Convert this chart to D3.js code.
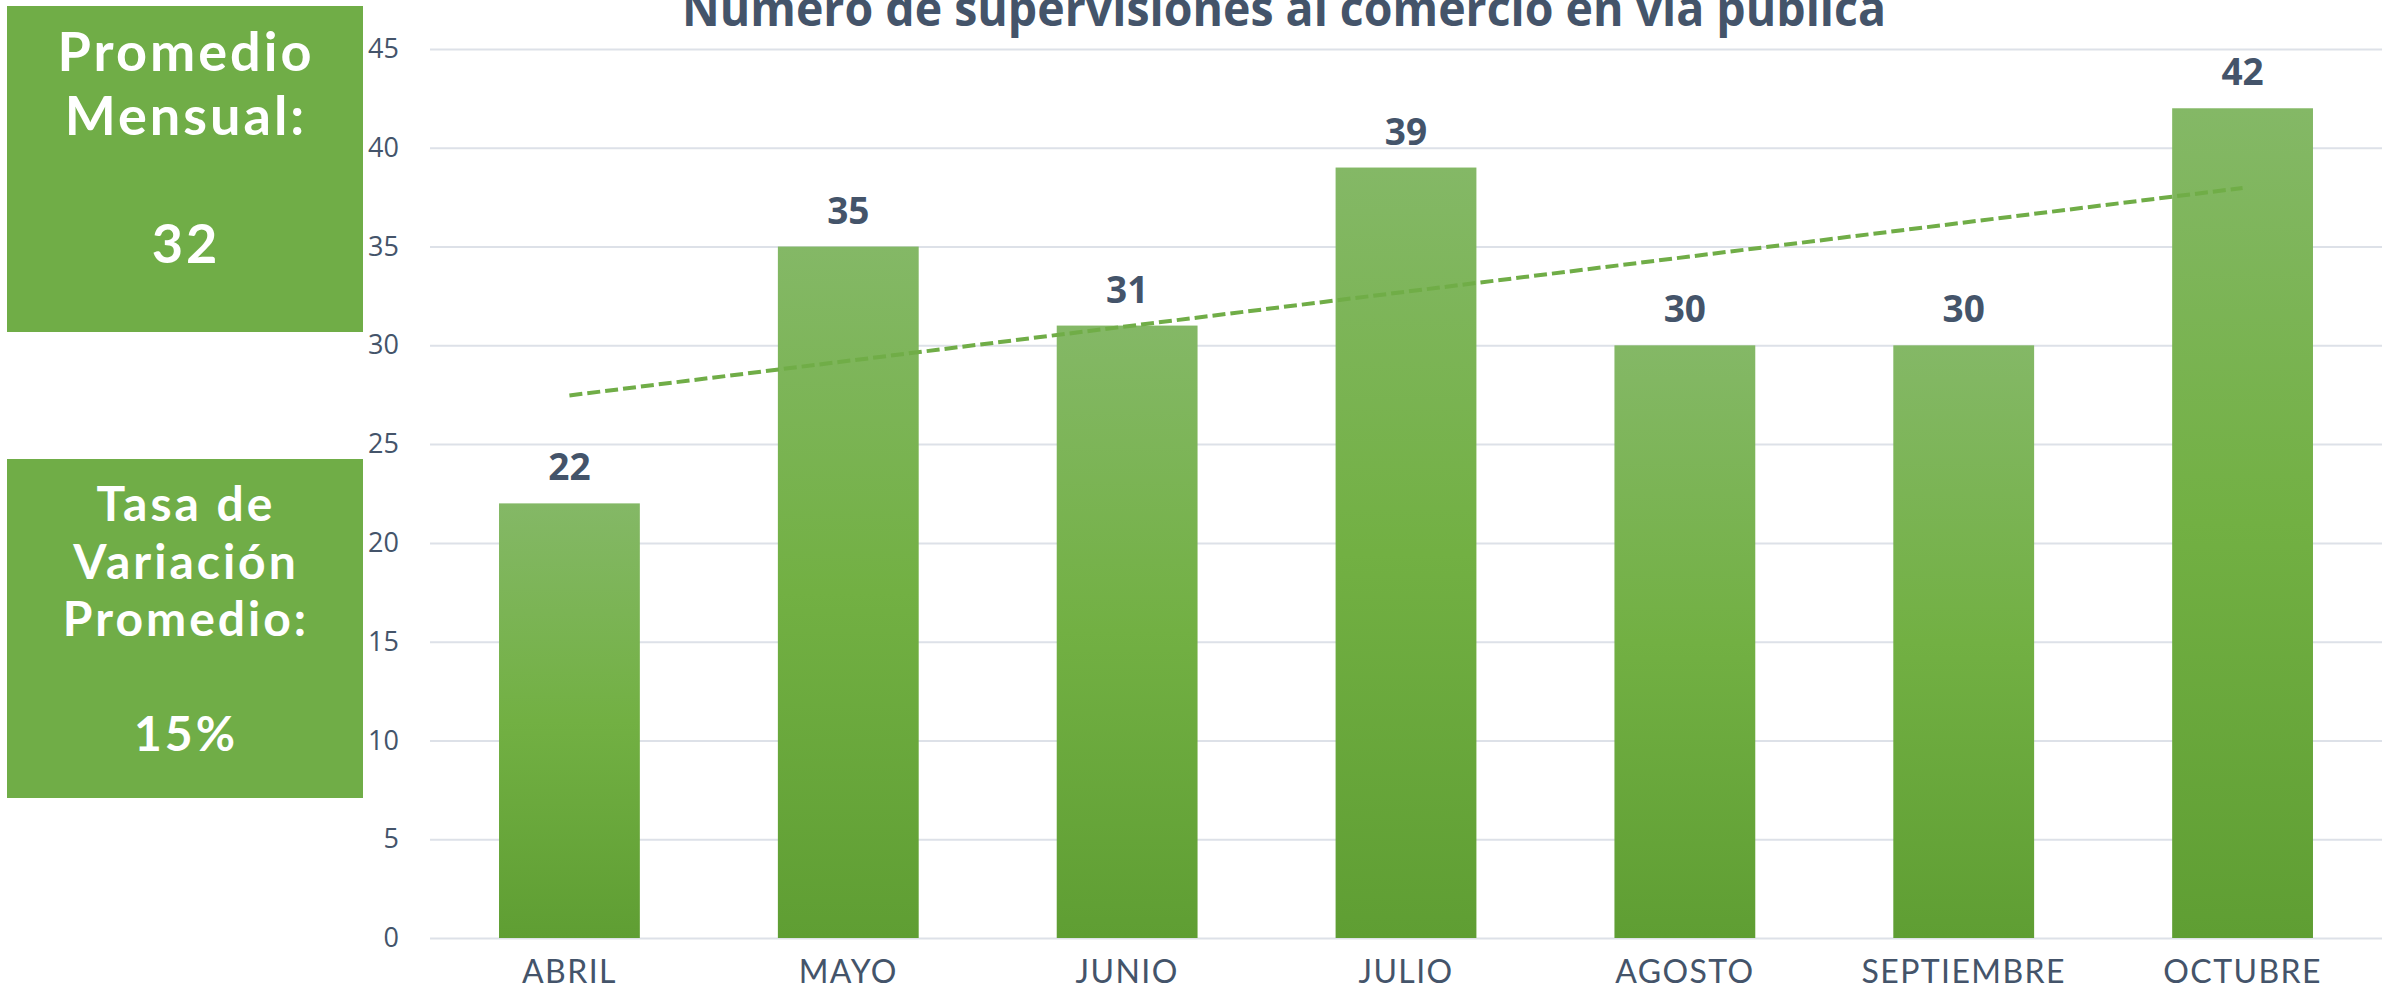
<!DOCTYPE html>
<html>
<head>
<meta charset="utf-8">
<script src="https://cdn.jsdelivr.net/npm/d3@7"></script>
<style>
  body { margin: 0; background: #fff; }
  .tickY text { font-family: "Open Sans", sans-serif; font-size: 27px; fill: #44546a; }
  .tickX text { font-family: Lato, sans-serif; font-weight: 400; font-size: 32px; letter-spacing: 1.4px; fill: #44546a; }
</style>
</head>
<body>
<div id="chart"></div>
<script>
// chart values
let months = ["ABRIL", "MAYO", "JUNIO", "JULIO", "AGOSTO", "SEPTIEMBRE", "OCTUBRE"];
let supervisiones = [22, 35, 31, 39, 30, 30, 42];
let yTicks = [0, 5, 10, 15, 20, 25, 30, 35, 40, 45];
let promedioLines = ["Promedio", "Mensual:", "", "32"];
let tasaLines = ["Tasa de", "Variación", "Promedio:", "", "15%"];
let titulo = "Número de supervisiones al comercio en vía pública";

let svgWidth = 2394;
let svgHeight = 991;

let svg = d3.select("#chart")
    .append("svg")
    .attr("width", svgWidth)
    .attr("height", svgHeight);

// gradient for the bars
let grad = svg.append("defs")
    .append("linearGradient")
    .attr("id", "barGrad")
    .attr("x1", 0).attr("y1", 0).attr("x2", 0).attr("y2", 1);
grad.append("stop").attr("offset", "0%").attr("stop-color", "#84b866");
grad.append("stop").attr("offset", "50%").attr("stop-color", "#72b043");
grad.append("stop").attr("offset", "100%").attr("stop-color", "#5f9e33");

// scales
let xScale = d3.scaleBand()
    .domain(months)
    .range([430, 2382])
    .paddingInner(0.495)
    .paddingOuter(0.2475);

let yScale = d3.scaleLinear()
    .domain([0, 45])
    .range([938, 49]);

// gridlines + y labels
let yAxis = svg.append("g")
    .attr("class", "tickY")
    .attr("transform", "translate(430,0)")
    .call(d3.axisLeft(yScale).tickValues(yTicks).tickSize(-1952).tickPadding(31));
yAxis.select(".domain").remove();
yAxis.selectAll("line").attr("stroke", "#dde1e8").attr("stroke-width", 2);

// x labels
let xAxis = svg.append("g")
    .attr("class", "tickX")
    .attr("transform", "translate(0,938)")
    .call(d3.axisBottom(xScale).tickSize(0).tickPadding(22));
xAxis.select(".domain").remove();

// bars
svg.append("g")
    .selectAll("rect")
    .data(supervisiones)
    .enter()
    .append("rect")
    .attr("x", (d, i) => xScale(months[i]))
    .attr("y", d => yScale(d))
    .attr("width", xScale.bandwidth())
    .attr("height", d => yScale(0) - yScale(d))
    .attr("fill", "url(#barGrad)");

// value labels
svg.append("g")
    .selectAll("text")
    .data(supervisiones)
    .enter()
    .append("text")
    .attr("x", (d, i) => xScale(months[i]) + xScale.bandwidth() / 2)
    .attr("y", d => yScale(d) - 23)
    .attr("text-anchor", "middle")
    .style("font-family", "'Open Sans', sans-serif")
    .style("font-weight", 700)
    .style("font-size", "37px")
    .style("fill", "#44546a")
    .text(d => d);

// linear trend line (least squares over the months)
let n = supervisiones.length;
let meanX = (n - 1) / 2;
let meanY = d3.mean(supervisiones);
let slope = d3.sum(supervisiones, (d, i) => (i - meanX) * (d - meanY)) /
            d3.sum(supervisiones, (d, i) => (i - meanX) * (i - meanX));
let intercept = meanY - slope * meanX;
let trend = [0, n - 1].map(i => ({ m: months[i], v: intercept + slope * i }));

svg.append("path")
    .datum(trend)
    .attr("d", d3.line()
        .x(d => xScale(d.m) + xScale.bandwidth() / 2)
        .y(d => yScale(d.v)))
    .attr("fill", "none")
    .attr("stroke", "#70ad47")
    .attr("stroke-width", 4)
    .attr("stroke-dasharray", "13,5");

// title (its top is cut off by the frame, as in the original)
svg.append("text")
    .attr("x", 1284)
    .attr("y", 26)
    .attr("text-anchor", "middle")
    .attr("textLength", 1204)
    .attr("lengthAdjust", "spacingAndGlyphs")
    .style("font-family", "'Open Sans', sans-serif")
    .style("font-weight", 700)
    .style("font-size", "48px")
    .style("fill", "#44546a")
    .text(titulo);

// side boxes
function sideBox(y0, h, lines, firstBase, lineH, size) {
    let g = svg.append("g");
    g.append("rect")
        .attr("x", 7).attr("y", y0)
        .attr("width", 356).attr("height", h)
        .attr("fill", "#70ad47");
    g.selectAll("text")
        .data(lines)
        .enter()
        .append("text")
        .attr("x", 186)
        .attr("y", (d, i) => firstBase + i * lineH)
        .attr("text-anchor", "middle")
        .style("font-family", "Lato, sans-serif")
        .style("font-weight", 700)
        .style("font-size", size + "px")
        .style("letter-spacing", "3px")
        .style("fill", "#fff")
        .text(d => d);
}
sideBox(6, 326, promedioLines, 71, 64, 54);
sideBox(459, 339, tasaLines, 521, 57.5, 48);
</script>
</body>
</html>
